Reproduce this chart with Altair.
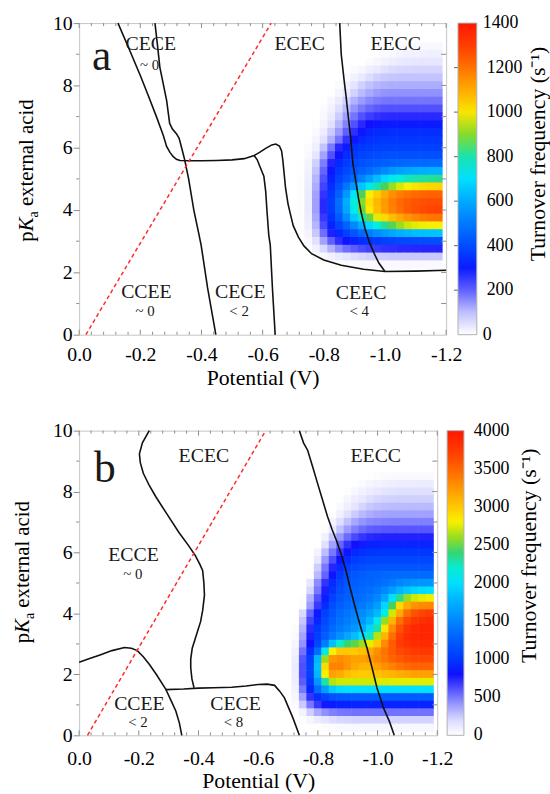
import altair as alt
import pandas as pd

FONT = "Liberation Serif"
TICK = "#8c8c8c"
FRAME = "#c4c4c4"

# ---------------- heat-map grid (TOF values) ----------------
GRID_V = [-0.700, -0.725, -0.750, -0.775, -0.800, -0.825, -0.850, -0.875, -0.900, -0.925,
          -0.950, -0.975, -1.000, -1.025, -1.050, -1.075, -1.100, -1.125, -1.150, -1.175]

A_PK = [9.25, 9.0, 8.75, 8.5, 8.25, 8.0, 7.75, 7.5, 7.25, 7.0, 6.75, 6.5, 6.25, 6.0, 5.75,
        5.5, 5.25, 5.0, 4.75, 4.5, 4.25, 4.0, 3.75, 3.5, 3.25, 3.0, 2.75, 2.5, 2.25]
A_TOF = [
    "0 0 0 0 0 0 0 0 0 0 0 0 0 3 6 9 12 14 15 15",
    "0 0 0 0 0 0 0 0 0 0 0 5 12 19 25 30 32 34 35 35",
    "0 0 0 0 0 0 0 0 0 0 8 19 30 40 47 51 53 55 55 55",
    "0 0 0 0 0 0 0 0 8 20 35 50 60 68 72 74 75 75 75 75",
    "0 0 0 0 0 0 0 12 30 50 66 80 88 92 95 95 95 95 95 95",
    "0 0 0 0 0 0 10 32 58 80 98 110 116 120 120 120 120 120 120 120",
    "0 0 0 0 0 3 22 48 78 104 124 138 146 150 150 150 150 150 150 150",
    "0 0 0 0 0 18 45 80 115 140 160 172 178 180 180 180 180 180 180 180",
    "0 0 0 0 8 30 65 105 145 175 195 207 213 215 215 215 215 215 215 215",
    "0 0 0 0 15 45 85 135 180 215 235 248 253 255 255 255 255 255 255 255",
    "0 0 0 5 25 60 110 165 215 255 280 292 298 300 300 300 300 300 300 300",
    "0 0 0 12 40 85 140 200 250 290 312 323 328 330 330 330 330 330 330 330",
    "0 0 3 22 60 115 180 245 290 320 337 345 350 350 350 350 350 350 350 350",
    "0 0 8 35 95 175 255 305 335 350 360 366 370 370 370 370 370 370 370 370",
    "0 0 15 55 130 215 285 330 360 380 392 400 405 410 410 410 410 410 410 410",
    "0 2 25 80 170 260 320 360 390 410 425 435 445 452 458 462 466 468 470 470",
    "0 3 30 95 195 290 350 390 420 445 470 500 530 560 580 595 605 612 618 620",
    "0 4 35 110 215 310 375 425 470 520 580 640 690 730 760 785 800 810 818 820",
    "0 5 40 120 230 330 410 490 570 650 730 800 860 910 950 980 1000 1015 1025 1030",
    "0 5 45 130 245 350 450 560 720 860 980 1040 1100 1150 1180 1200 1215 1225 1230 1230",
    "0 5 45 135 255 365 480 610 760 900 1010 1080 1130 1180 1215 1240 1255 1265 1270 1270",
    "0 5 45 135 255 360 470 595 740 880 990 1070 1125 1175 1210 1240 1260 1275 1285 1290",
    "0 4 40 125 240 340 435 540 660 780 880 960 1020 1070 1110 1140 1165 1185 1195 1200",
    "0 3 35 110 220 310 380 450 530 610 690 760 820 870 910 940 960 972 978 980",
    "0 2 25 90 185 265 320 370 420 465 505 540 570 595 615 630 640 645 648 650",
    "0 0 15 60 130 200 250 285 310 330 345 358 370 380 387 392 396 398 400 400",
    "0 0 5 30 70 115 155 185 205 220 232 240 246 250 254 256 258 259 260 260",
    "0 0 0 5 15 30 45 57 66 73 78 82 85 87 88 89 90 90 90 90",
    "0 0 0 0 0 2 5 7 9 11 12 13 14 14 14 14 14 14 14 14",
]

B_PK = [8.5, 8.25, 8.0, 7.75, 7.5, 7.25, 7.0, 6.75, 6.5, 6.25, 6.0, 5.75, 5.5, 5.25, 5.0,
        4.75, 4.5, 4.25, 4.0, 3.75, 3.5, 3.25, 3.0, 2.75, 2.5, 2.25, 2.0, 1.75, 1.5, 1.25,
        1.0, 0.75, 0.5, 0.25]
B_TOF = [
    "0 0 0 0 0 0 0 0 0 0 0 8 17 25 31 36 38 39 40 40",
    "0 0 0 0 0 0 0 0 0 5 30 55 78 96 108 115 118 120 120 120",
    "0 0 0 0 0 0 0 0 14 52 90 124 150 166 173 178 180 180 180 180",
    "0 0 0 0 0 0 0 5 58 106 150 184 207 221 226 229 230 230 230 230",
    "0 0 0 0 0 0 0 36 102 162 216 255 279 291 297 300 300 300 300 300",
    "0 0 0 0 0 0 8 95 175 247 304 342 365 374 378 380 380 380 380 380",
    "0 0 0 0 0 0 77 182 278 360 418 451 466 475 478 480 480 480 480 480",
    "0 0 0 0 0 12 150 276 390 480 540 576 590 596 600 600 600 600 600 600",
    "0 0 0 0 0 90 255 405 540 638 698 728 742 748 750 750 750 750 750 750",
    "0 0 0 0 0 180 378 558 702 800 855 882 895 900 900 900 900 900 900 900",
    "0 0 0 0 80 290 500 690 830 920 960 985 995 1000 1000 1000 1000 1000 1000 1000",
    "0 0 0 0 155 400 620 810 950 1030 1070 1090 1100 1100 1100 1100 1100 1100 1100 1100",
    "0 0 0 5 240 500 740 930 1060 1130 1170 1190 1200 1200 1200 1200 1200 1200 1200 1200",
    "0 0 0 15 300 560 820 1020 1150 1220 1260 1290 1310 1325 1335 1340 1345 1350 1350 1350",
    "0 0 0 156 440 700 940 1100 1210 1260 1290 1310 1340 1380 1440 1500 1550 1580 1595 1600",
    "0 0 0 210 500 760 990 1150 1250 1300 1330 1360 1420 1520 1650 1780 1880 1940 1980 2000",
    "0 0 10 330 610 870 1070 1200 1280 1330 1370 1420 1520 1700 2000 2350 2600 2700 2750 2780",
    "0 0 20 390 680 940 1140 1260 1330 1380 1430 1500 1650 1950 2450 2900 3150 3260 3300 3320",
    "0 0 200 560 850 1060 1220 1330 1400 1460 1530 1630 1800 2150 2700 3150 3450 3600 3680 3720",
    "0 0 260 650 920 1120 1280 1380 1450 1520 1620 1800 2100 2600 3100 3450 3650 3770 3830 3850",
    "0 20 320 720 1000 1180 1330 1440 1520 1610 1740 1950 2300 2850 3300 3600 3780 3870 3900 3900",
    "0 40 370 760 1050 1250 1420 1560 1690 1830 2000 2250 2650 3100 3450 3700 3830 3890 3900 3900",
    "0 60 420 800 1100 1450 1850 2200 2400 2500 2600 2750 3000 3300 3550 3720 3800 3840 3850 3850",
    "0 90 520 950 1350 2100 2800 3000 3000 3000 3050 3150 3280 3420 3550 3650 3700 3740 3750 3750",
    "0 110 600 1050 1800 2600 3250 3300 3250 3200 3200 3250 3330 3400 3500 3570 3620 3650 3650 3650",
    "0 120 620 1080 1850 2900 3350 3350 3250 3150 3100 3100 3200 3280 3350 3420 3470 3500 3500 3500",
    "0 120 620 1080 1800 2800 3200 3150 3050 3000 2980 3000 3030 3070 3100 3140 3170 3200 3200 3200",
    "0 110 580 1000 1600 2300 2650 2700 2700 2700 2700 2700 2720 2730 2740 2750 2750 2750 2750 2750",
    "0 90 500 900 1350 1650 1900 1980 2000 2000 2000 2000 2000 2000 2000 2000 2000 2000 2000 2000",
    "0 60 380 700 950 1080 1180 1220 1240 1250 1250 1250 1250 1250 1250 1250 1250 1250 1250 1250",
    "0 30 250 500 680 780 850 880 895 900 900 900 900 900 900 900 900 900 900 900",
    "0 0 80 230 350 430 480 505 515 520 520 520 520 520 520 520 520 520 520 520",
    "0 0 10 60 120 160 190 205 212 217 220 220 220 220 220 220 220 220 220 220",
    "0 0 0 0 8 20 32 40 45 48 50 50 50 50 50 50 50 50 50 50",
]

# colour map (fraction of the colour-bar maximum)
STOP_FRAC = [0.0, 0.04, 0.08, 0.12, 0.16, 0.20, 0.25, 0.32, 0.39, 0.45, 0.50, 0.54,
             0.58, 0.61, 0.64, 0.67, 0.70, 0.75, 0.81, 0.87, 0.93, 1.0]
STOP_COLORS = ["#ffffff", "#e6e6ff", "#b4b4ff", "#8080ff", "#4848ff", "#1010ff", "#0038ff",
               "#0060ff", "#0090ff", "#00b8ff", "#00e0ff", "#00eee0", "#20e0a0", "#40d060",
               "#80d830", "#c8e800", "#f8f000", "#ffc800", "#ff9800", "#ff6800", "#ff3c00",
               "#ff1800"]

# colour-bar tick labels
A_LEGEND_VALUES = [0, 200, 400, 600, 800, 1000, 1200, 1400]
B_LEGEND_VALUES = [0, 500, 1000, 1500, 2000, 2500, 3000, 3500, 4000]

# axis ticks
X_MAJOR = [0.0, -0.2, -0.4, -0.6, -0.8, -1.0, -1.2]
X_MINOR = [-0.04, -0.08, -0.12, -0.16, -0.24, -0.28, -0.32, -0.36, -0.44, -0.48, -0.52, -0.56,
           -0.64, -0.68, -0.72, -0.76, -0.84, -0.88, -0.92, -0.96, -1.04, -1.08, -1.12, -1.16]
Y_MAJOR = [0, 2, 4, 6, 8, 10]
Y_MINOR = [1, 3, 5, 7, 9]
Y_RIGHT = [1, 2, 3, 4, 5, 6, 7, 8, 9]

# ---------------- boundary curves (potential, pKa) ----------------
A_CURVES = [
    [(-0.127, 10.0), (-0.16, 9.25), (-0.2, 8.32), (-0.225, 7.7), (-0.253, 6.99), (-0.275, 6.4),
     (-0.286, 6.04), (-0.297, 5.85), (-0.307, 5.72), (-0.318, 5.63), (-0.33, 5.59), (-0.36, 5.58),
     (-0.40, 5.58), (-0.45, 5.59), (-0.50, 5.61), (-0.54, 5.65), (-0.572, 5.75), (-0.59, 5.85),
     (-0.61, 5.98), (-0.63, 6.09), (-0.643, 6.12), (-0.655, 6.05), (-0.662, 5.9), (-0.666, 5.6),
     (-0.67, 5.2), (-0.675, 4.7), (-0.683, 4.2), (-0.69, 3.9), (-0.70, 3.5), (-0.717, 3.13),
     (-0.735, 2.85), (-0.76, 2.6), (-0.80, 2.4), (-0.857, 2.23), (-0.93, 2.1), (-1.0, 2.03),
     (-1.1, 2.04), (-1.2, 2.07)],
    [(-0.572, 5.75), (-0.582, 5.62), (-0.593, 5.35), (-0.604, 5.09), (-0.61, 4.6), (-0.614, 4.0),
     (-0.62, 3.2), (-0.625, 2.87), (-0.632, 1.5), (-0.641, 0.0)],
    [(-0.248, 10.0), (-0.256, 9.3), (-0.264, 8.58), (-0.276, 8.0), (-0.286, 7.52), (-0.296, 6.78),
     (-0.305, 6.6), (-0.318, 6.45), (-0.327, 6.3), (-0.334, 6.04), (-0.345, 5.62), (-0.358, 5.0),
     (-0.375, 4.0), (-0.39, 3.3), (-0.399, 2.87), (-0.42, 1.5), (-0.447, 0.0)],
    [(-0.852, 10.0), (-0.857, 9.0), (-0.866, 8.2), (-0.873, 7.63), (-0.88, 7.0), (-0.888, 6.3),
     (-0.895, 5.5), (-0.905, 4.9), (-0.913, 4.4), (-0.922, 3.93), (-0.935, 3.4), (-0.949, 2.97),
     (-0.965, 2.6), (-0.98, 2.3), (-1.0, 2.03)],
]
A_RED = [(-0.022, 0.0), (-0.628, 10.0)]

B_CURVES = [
    [(-0.235, 10.0), (-0.212, 9.6), (-0.202, 9.24), (-0.205, 8.95), (-0.215, 8.6), (-0.235, 8.2),
     (-0.257, 7.83), (-0.295, 7.25), (-0.335, 6.65), (-0.365, 6.25), (-0.39, 5.89), (-0.405, 5.6),
     (-0.414, 5.4), (-0.418, 5.0), (-0.42, 4.6), (-0.414, 4.1), (-0.407, 3.73), (-0.39, 3.2),
     (-0.379, 2.86), (-0.374, 2.5), (-0.374, 2.21), (-0.378, 1.85), (-0.385, 1.56)],
    [(0.0, 2.4), (-0.035, 2.52), (-0.07, 2.64), (-0.11, 2.78), (-0.152, 2.88), (-0.175, 2.86),
     (-0.195, 2.78), (-0.215, 2.58), (-0.235, 2.33), (-0.26, 1.98), (-0.29, 1.52), (-0.31, 1.1),
     (-0.324, 0.8), (-0.336, 0.4), (-0.344, 0.0)],
    [(-0.29, 1.5), (-0.35, 1.52), (-0.40, 1.55), (-0.45, 1.56), (-0.511, 1.58), (-0.56, 1.62),
     (-0.60, 1.67), (-0.63, 1.68), (-0.655, 1.64), (-0.672, 1.45), (-0.688, 1.23), (-0.70, 0.95),
     (-0.716, 0.58), (-0.738, 0.0)],
    [(-0.738, 10.0), (-0.752, 9.6), (-0.766, 9.35), (-0.783, 8.8), (-0.799, 8.27), (-0.815, 7.75),
     (-0.832, 7.19), (-0.848, 6.75), (-0.862, 6.4), (-0.878, 5.95), (-0.893, 5.45), (-0.909, 4.81),
     (-0.925, 4.2), (-0.945, 3.5), (-0.965, 2.86), (-0.982, 2.2), (-0.998, 1.56), (-1.02, 0.9),
     (-1.04, 0.45), (-1.056, 0.0)],
]
B_RED = [(-0.028, 0.0), (-0.625, 10.0)]

# ---------------- text labels (text, potential, pKa baseline, font size) ----------------
A_TEXT = [("a", -0.074, 8.48, 44), ("CECE", -0.234, 9.14, 20), ("~ 0", -0.23, 8.48, 15),
          ("ECEC", -0.721, 9.14, 20), ("EECC", -1.035, 9.14, 20),
          ("CCEE", -0.22, 1.17, 20), ("~ 0", -0.216, 0.60, 15),
          ("CECE", -0.527, 1.17, 20), ("< 2", -0.523, 0.60, 15),
          ("CEEC", -0.922, 1.16, 20), ("< 4", -0.916, 0.60, 15)]
B_TEXT = [("b", -0.086, 8.32, 44), ("ECEC", -0.418, 8.97, 20), ("EECC", -0.994, 8.97, 20),
          ("ECCE", -0.182, 5.71, 20), ("~ 0", -0.18, 5.13, 15),
          ("CCEE", -0.202, 0.84, 20), ("< 2", -0.197, 0.26, 15),
          ("CECE", -0.524, 0.84, 20), ("< 8", -0.517, 0.26, 15)]

HALF_V = 0.0135   # half cell width (slight overlap hides seams)
HALF_PK = 0.135   # half cell height


def heat_df(pks, rows):
    recs = []
    for pk, row in zip(pks, rows):
        vals = [int(s) for s in row.split()]
        for v0, val in zip(GRID_V, vals):
            if val > 0:
                recs.append(dict(xa=v0 + HALF_V, xb=v0 - HALF_V,
                                 ya=pk - HALF_PK, yb=pk + HALF_PK, tof=val))
    return pd.DataFrame(recs)


def curve_df(curves):
    recs = []
    for cid, pts in enumerate(curves):
        for i, (v, pk) in enumerate(pts):
            recs.append(dict(cid=cid, i=i, v=v, pk=pk))
    return pd.DataFrame(recs)


def panel(W, H, pks, rows, vmax, legend_values, grad_thick, legend_offset, curves, red,
          texts, ytx, yty, label_pad, cb_y):
    xs = alt.Scale(domain=[0, -1.2], nice=False, zero=False)
    ys = alt.Scale(domain=[0, 10], nice=False, zero=False)
    cs = alt.Scale(domain=[round(f * vmax, 3) for f in STOP_FRAC], range=STOP_COLORS,
                   interpolate="rgb")
    ax = alt.Axis(
        title="Potential (V)", values=X_MAJOR,
        labelExpr="datum.value == 0 ? '0.0' : '-' + format(-datum.value, '.1f')",
        ticks=False, domain=False, grid=False, labelFlush=False,
        labelFont=FONT, labelFontSize=20, labelColor="black", labelPadding=label_pad,
        titleFont=FONT, titleFontSize=22, titleFontWeight="normal", titleColor="black",
        titlePadding=3)
    ay = alt.Axis(
        title=None, values=Y_MAJOR, format="d", tickSize=6, tickColor=TICK, domain=False,
        grid=False, labelFont=FONT, labelFontSize=20, labelColor="black", labelPadding=1)

    def X(f):
        return alt.X(f, type="quantitative", scale=xs, axis=ax)

    def Y(f):
        return alt.Y(f, type="quantitative", scale=ys, axis=ay)

    inner_vals = legend_values[1:-1]
    heat = alt.Chart(heat_df(pks, rows)).mark_rect().encode(
        x=X("xa"), x2="xb", y=Y("ya"), y2="yb",
        color=alt.Color("tof:Q", scale=cs, legend=alt.Legend(
            type="gradient", title=None, values=inner_vals, orient="right",
            offset=legend_offset, direction="vertical", gradientLength=H,
            gradientThickness=grad_thick, gradientStrokeColor="#b0b0b0",
            gradientStrokeWidth=1, labelFont=FONT, labelFontSize=18, labelColor="black",
            labelOffset=10, labelOverlap=False, format="d")),
    )

    def xtick(vals, y1, y2):
        return alt.Chart(pd.DataFrame({"v": vals})).mark_rule(color=TICK, strokeWidth=1).encode(
            x=X("v"), y=alt.value(y1), y2=alt.value(y2))

    def ytick(vals, x1, x2, color=TICK):
        return alt.Chart(pd.DataFrame({"v": vals})).mark_rule(color=color, strokeWidth=1).encode(
            y=Y("v"), x=alt.value(x1), x2=alt.value(x2))

    ticks = [xtick(X_MAJOR, H, H - 5), xtick(X_MINOR, H, H - 3),
             xtick(X_MAJOR, 0, 5), xtick(X_MINOR, 0, 3),
             ytick(Y_MINOR, 0, -3), ytick(Y_RIGHT, W, W - 5)]

    # colour-bar ticks and end labels, placed through the (linear) y scale
    cb_pk = [10.0 * v / vmax for v in inner_vals]
    gx0 = W + legend_offset
    gx1 = gx0 + grad_thick
    cbticks = [ytick(cb_pk, gx0, gx0 + 4, "#606060"), ytick(cb_pk, gx1 - 4, gx1, "#606060")]
    end_df = pd.DataFrame({"pk": [0.0, 10.0],
                           "t": [str(legend_values[0]), str(legend_values[-1])]})
    cb_ends = alt.Chart(end_df).mark_text(font=FONT, fontSize=18, align="left",
                                          baseline="middle", color="black").encode(
        y=Y("pk"), x=alt.value(gx1 + 10), text="t:N")

    lines = alt.Chart(curve_df(curves)).mark_line(color="#111111", strokeWidth=1.6).encode(
        x=X("v"), y=Y("pk"), detail="cid:N", order="i:Q")
    redline = alt.Chart(curve_df([red])).mark_line(
        color="#ff2a2a", strokeWidth=1.5, strokeDash=[4, 3]).encode(
        x=X("v"), y=Y("pk"), order="i:Q")

    tdf = pd.DataFrame(texts, columns=["t", "v", "pk", "s"])
    labels = alt.Chart(tdf).mark_text(font=FONT, baseline="alphabetic", align="center",
                                      color="#1a1a1a").encode(
        x=X("v"), y=Y("pk"), text="t:N", size=alt.Size("s:Q", scale=None))

    one = pd.DataFrame({"k": [0]})

    def rtext(txt, x, y, size, style="normal", align="left"):
        return alt.Chart(one).mark_text(text=txt, angle=270, align=align, baseline="alphabetic",
                                        font=FONT, fontSize=size, fontStyle=style,
                                        color="black").encode(x=alt.value(x), y=alt.value(y))

    ytitle = [rtext("p", ytx, yty, 21),
              rtext("K", ytx, yty - 10.5, 21, "italic"),
              rtext("a", ytx + 5, yty - 24.5, 14),
              rtext("external acid", ytx, yty - 36.0, 21)]
    cbtitle = rtext("Turnover frequency (s\u207b\u00b9)", W + 100, cb_y, 22, align="right")

    return alt.layer(heat, *ticks, *cbticks, cb_ends, lines, redline, labels, *ytitle,
                     cbtitle).properties(width=W, height=H)


panel_a = panel(371, 315, A_PK, A_TOF, 1400, A_LEGEND_VALUES, 19, 8, A_CURVES, A_RED, A_TEXT,
                -46.5, 221, 10, 24)
panel_b = panel(362, 308, B_PK, B_TOF, 4000, B_LEGEND_VALUES, 17, 10, B_CURVES, B_RED, B_TEXT,
                -50.5, 215, 13, 18)

chart = alt.vconcat(panel_a, panel_b, spacing=31).resolve_scale(
    color="independent").properties(
    padding={"left": 12, "top": 8, "right": 0, "bottom": 0},
    background="white").configure_view(stroke=FRAME, strokeWidth=1)

chart.save("out.html", embed_options={"renderer": "svg", "actions": False})
